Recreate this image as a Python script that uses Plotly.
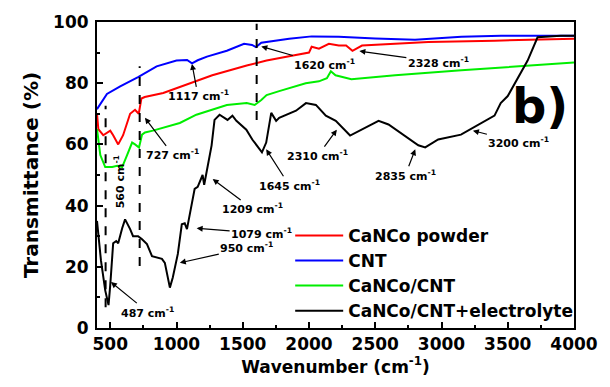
import plotly.graph_objects as go

# ---- data ----
cnt_x = [400, 430, 475, 575, 710, 850, 1000, 1080, 1117, 1160, 1230, 1380, 1510, 1570, 1600, 1640, 1850, 2020, 2225, 2500, 2800, 3150, 3450, 4000]
cnt_y = [71.5, 73.5, 76.5, 79, 82, 85.5, 87.4, 87.6, 86.5, 87.5, 88.7, 90.6, 92.9, 92.5, 91.8, 93.2, 94.5, 95.3, 95.2, 94.6, 94.2, 95.2, 95.5, 95.5]

pow_x = [400, 410, 447, 500, 522, 560, 597, 650, 687, 715, 735, 760, 900, 1270, 1530, 1680, 1870, 2000, 2020, 2075, 2150, 2225, 2280, 2328, 2400, 2900, 3400, 4000]
pow_y = [70, 65, 63, 64.5, 63, 60, 63, 70, 71.3, 70, 75, 75.5, 76.8, 82.6, 85.8, 87.4, 89, 90, 91.9, 91.3, 92.9, 92.3, 92.3, 90.6, 92.3, 93.5, 93.9, 94.5]

cc_x = [400, 425, 462, 515, 552, 590, 627, 665, 687, 717, 740, 762, 822, 1025, 1150, 1380, 1530, 1590, 1640, 1680, 1775, 1975, 2075, 2135, 2165, 2200, 2320, 2650, 3150, 4000]
cc_y = [65, 56.5, 52.6, 52.6, 53, 52.6, 56.5, 60.6, 60, 59, 63.2, 63.9, 64.5, 67, 69.7, 72.9, 73.5, 72.9, 74.5, 76.1, 77.4, 80, 80.6, 81.6, 83.9, 82.6, 81.3, 82.6, 84.2, 86.8]

el_x = [400, 430, 462, 487, 500, 522, 545, 560, 590, 612, 650, 672, 710, 740, 777, 815, 890, 912, 950, 972, 1010, 1040, 1062, 1079, 1137, 1160, 1197, 1209, 1265, 1287, 1325, 1385, 1422, 1452, 1527, 1572, 1645, 1677, 1715, 1752, 1775, 1902, 1977, 2052, 2127, 2202, 2310, 2400, 2525, 2600, 2825, 2877, 2975, 3147, 3200, 3400, 3447, 3500, 3650, 3725, 3900, 4000]
el_y = [35, 22, 12.3, 7.5, 14, 27.7, 28.4, 27.7, 32.6, 35.5, 32.3, 30, 30, 29, 27.4, 23.5, 22.6, 21.3, 13.2, 16.5, 24.2, 33.9, 34.2, 32.3, 45.5, 46.1, 50, 46.8, 59.7, 68, 69.7, 68, 69.4, 67.7, 64.8, 61.6, 57.4, 60.6, 70.3, 67.7, 68.7, 71, 73.5, 72.9, 69.4, 67.7, 62.9, 65, 67.7, 66.5, 59.7, 59, 61.6, 63.2, 64.5, 69.4, 73.5, 75.8, 87.4, 95, 95.5, 95.5]

series_names = ["CaNCo powder", "CNT", "CaNCo/CNT", "CaNCo/CNT+electrolyte"]
series_colors = ["#ff0000", "#0000ff", "#00ee00", "#000000"]

# dashed marker lines
dash_x = [465, 722, 1605]
dash_y0 = [6.8, 20.3, 68]
dash_y1 = [72.6, 85.5, 99.4]

# peak labels: text, arrow tip (x, y), text offset in pixels (ax, ay)
ann_text = ["1117", "1620", "2328", "727", "560", "487", "950", "1079", "1209", "1645", "2310", "2835", "3200"]
ann_x = [1117, 1640, 2380, 762, 560, 505, 1025, 1152, 1273, 1677, 2210, 2802, 3237]
ann_y = [86.3, 92.0, 90.5, 68.7, 55.5, 15.0, 21.3, 32.6, 48.7, 58.4, 64.8, 58.4, 64.5]
ann_ax = [6, 63, 79, 28, 1, 37, 67, 65, 40, 23, -19, -10, 46]
ann_ay = [32, 18, 11, 37, 24, 30, -15, 5, 30, 36, 26, 26, 12]

FONT = "DejaVu Sans, sans-serif"

fig = go.Figure()
for xs, ys, name, col in [(pow_x, pow_y, series_names[0], series_colors[0]),
                          (cnt_x, cnt_y, series_names[1], series_colors[1]),
                          (cc_x, cc_y, series_names[2], series_colors[2]),
                          (el_x, el_y, series_names[3], series_colors[3])]:
    fig.add_trace(go.Scatter(x=xs, y=ys, mode="lines", name=name,
                             line=dict(color=col, width=2)))

for x, y0, y1 in zip(dash_x, dash_y0, dash_y1):
    fig.add_shape(type="line", x0=x, x1=x, y0=y0, y1=y1, xref="x", yref="y",
                  line=dict(color="black", width=2, dash="dash"))

for t, x, y, ax, ay in zip(ann_text, ann_x, ann_y, ann_ax, ann_ay):
    rot = -90 if t == "560" else 0
    fig.add_annotation(x=x, y=y, ax=ax, ay=ay, xref="x", yref="y",
                       text=f"{t} cm<sup>-1</sup>", showarrow=True,
                       arrowhead=2, arrowsize=1, arrowwidth=1.2, arrowcolor="black",
                       textangle=rot,
                       font=dict(family=FONT, size=11, color="black", weight="bold"))

fig.add_annotation(x=0.929, y=0.727, xref="paper", yref="paper", text="b)",
                   xanchor="center", yanchor="middle",
                   showarrow=False, font=dict(family=FONT, size=48, color="black", weight="bold"))

axis_common = dict(showline=True, linecolor="black", linewidth=2, mirror=True,
                   ticks="inside", ticklen=6, tickwidth=1.5, tickcolor="black",
                   showgrid=False, zeroline=False,
                   tickfont=dict(family=FONT, size=17, color="black", weight="bold"))

fig.update_xaxes(range=[400, 4000], tick0=500, dtick=500,
                 minor=dict(ticks="inside", ticklen=3, tickwidth=1.5, dtick=250, tick0=250, tickcolor="black"),
                 title=dict(text="Wavenumber (cm<sup>-1</sup>)", standoff=4,
                            font=dict(family=FONT, size=17, color="black", weight="bold")),
                 **axis_common)
fig.update_yaxes(range=[0, 100], tick0=0, dtick=20, ticklabelstandoff=3,
                 minor=dict(ticks="inside", ticklen=3, tickwidth=1.5, dtick=10, tickcolor="black"),
                 title=dict(text="Transmittance (%)", standoff=9,
                            font=dict(family=FONT, size=20, color="black", weight="bold")),
                 **axis_common)

fig.update_layout(width=610, height=387,
                  margin=dict(l=97, r=33, t=17, b=59),
                  paper_bgcolor="white", plot_bgcolor="white",
                  showlegend=True,
                  legend=dict(x=0.405, y=0.36, xanchor="left", yanchor="top",
                              bgcolor="rgba(0,0,0,0)", tracegroupgap=0, itemwidth=48,
                              font=dict(family=FONT, size=17, color="black", weight="bold")))

fig.write_html("out.html")
